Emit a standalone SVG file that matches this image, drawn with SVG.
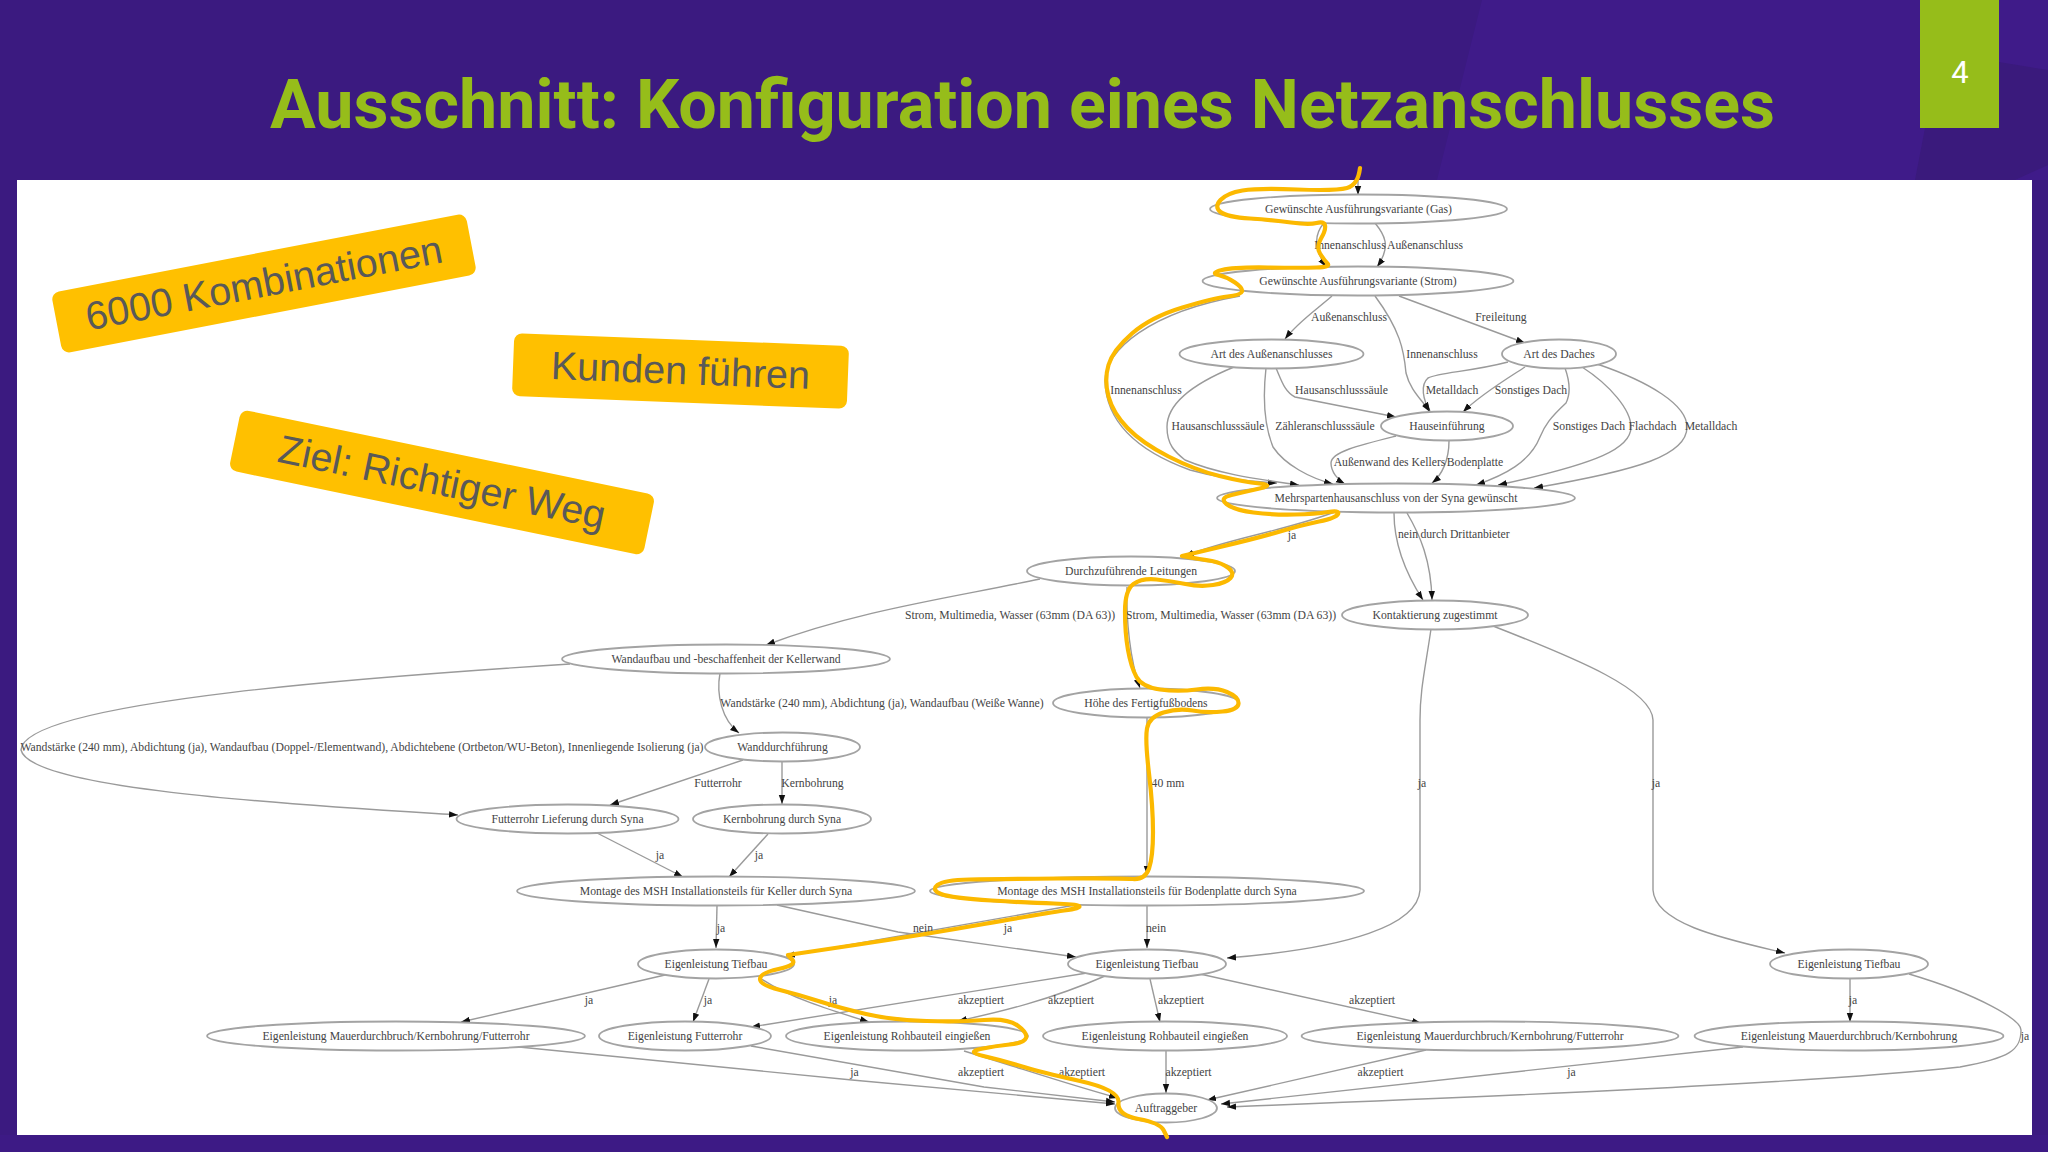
<svg xmlns="http://www.w3.org/2000/svg" width="2048" height="1152" viewBox="0 0 2048 1152">
<style>
.e{fill:none;stroke:#9a9a9a;stroke-width:1.4;marker-end:url(#a)}
.n ellipse{fill:#fff;stroke:#a3a3a3;stroke-width:1.8}
text.t{font-family:"Liberation Serif",serif;font-size:11.7px;fill:#444;text-anchor:middle}
.p rect{fill:#ffc000}
.p text{font-family:"Liberation Sans",Arial,sans-serif;font-size:39.5px;fill:#595959;text-anchor:middle}
</style>
<defs>
<marker id="a" markerUnits="userSpaceOnUse" markerWidth="10" markerHeight="8" refX="9" refY="4" orient="auto"><path d="M0,0.8L9,4L0,7.2Z" fill="#111"/></marker>
</defs>
<rect width="2048" height="1152" fill="#3b1a80"/>
<polygon points="1482,0 2048,0 2048,180 1437,180" fill="#3f1b89"/>
<polygon points="1915,180 1925,128 1999,128 1999,62 2048,70 2048,165 2015,180" fill="#3a1a7c"/>
<rect x="0" y="1135" width="2048" height="17" fill="#3d1a85"/>
<g id="title"><text x="1022.5" y="128" text-anchor="middle" font-family="Roboto,sans-serif" font-weight="700" font-size="68.2" fill="#96bd1a">Ausschnitt: Konfiguration eines Netzanschlusses</text></g>
<g id="page-number"><rect x="1920" y="0" width="79" height="128" fill="#96bd1a"/><text x="1960" y="83" text-anchor="middle" font-family="Roboto,sans-serif" font-size="31" fill="#fff">4</text></g>
<rect x="17" y="180" width="2015" height="955" fill="#fff"/>
<g id="connectors">
<path class="e" d="M1358,180V195"/>
<path class="e" d="M1324,223C1316,232 1312,246 1326,267"/>
<path class="e" d="M1375,223C1384,234 1392,246 1377,267"/>
<path class="e" d="M1332,296C1316,310 1298,322 1285,339"/>
<path class="e" d="M1375,296C1400,330 1404,350 1406,373C1410,390 1422,400 1430,412"/>
<path class="e" d="M1399,296L1525,343"/>
<path class="e" d="M1240,296C1150,312 1105,350 1105,381C1106,420 1135,450 1190,470C1225,480 1255,482 1277,483"/>
<path class="e" d="M1234,367C1190,385 1167,405 1167,427C1167,445 1175,452 1185,460C1220,475 1265,480 1299,485"/>
<path class="e" d="M1266,368C1263,395 1264,425 1273,447C1285,465 1310,478 1333,484"/>
<path class="e" d="M1276,368C1282,382 1285,392 1295,397L1396,417"/>
<path class="e" d="M1508,362C1470,372 1440,372 1428,378C1420,385 1423,400 1430,411"/>
<path class="e" d="M1525,367C1505,380 1480,395 1463,412"/>
<path class="e" d="M1565,368C1570,382 1570,395 1566,403C1550,418 1545,425 1540,437C1530,462 1505,475 1476,485"/>
<path class="e" d="M1582,367C1610,385 1631,410 1631,427C1631,448 1600,463 1498,485"/>
<path class="e" d="M1597,364C1650,382 1687,405 1687,427C1687,455 1640,470 1534,488"/>
<path class="e" d="M1396,436C1360,445 1331,452 1331,463C1331,472 1338,480 1345,484"/>
<path class="e" d="M1449,441C1449,460 1442,475 1432,483"/>
<path class="e" d="M1340,510C1290,530 1230,538 1185,556"/>
<path class="e" d="M1394,513C1394,550 1410,580 1423,600"/>
<path class="e" d="M1407,513C1420,535 1431,560 1432,600"/>
<path class="e" d="M1040,579C950,598 860,610 766,645"/>
<path class="e" d="M1127,587C1126,620 1130,660 1140,688"/>
<path class="e" d="M1431,629C1425,670 1420,690 1420,720V890C1418,925 1350,948 1227,958"/>
<path class="e" d="M1493,626C1580,660 1652,690 1653,720V890C1655,925 1730,940 1785,953"/>
<path class="e" d="M720,673C716,695 722,720 739,733"/>
<path class="e" d="M570,664C400,675 23,700 21,750C30,790 300,805 458,815"/>
<path class="e" d="M743,760L610,805"/>
<path class="e" d="M782,761V804"/>
<path class="e" d="M597,833L683,877"/>
<path class="e" d="M768,834L729,877"/>
<path class="e" d="M1147,717V875"/>
<path class="e" d="M717,906L716,948"/>
<path class="e" d="M777,905L898,932L1076,957"/>
<path class="e" d="M1081,904L786,956"/>
<path class="e" d="M1147,906V948"/>
<path class="e" d="M665,975L461,1022"/>
<path class="e" d="M709,979L693,1022"/>
<path class="e" d="M760,978C790,998 830,1010 869,1022"/>
<path class="e" d="M1087,973L751,1027"/>
<path class="e" d="M1105,976C1050,1000 1000,1012 958,1021"/>
<path class="e" d="M1150,979L1160,1022"/>
<path class="e" d="M1200,974L1421,1023"/>
<path class="e" d="M1850,979V1022"/>
<path class="e" d="M1909,974C1980,995 2021,1020 2021,1030C2021,1050 2010,1058 1960,1067C1800,1085 1400,1100 1227,1107"/>
<path class="e" d="M519,1047L852,1080L1115,1104"/>
<path class="e" d="M751,1046L984,1087L1115,1102"/>
<path class="e" d="M964,1051C1020,1068 1070,1085 1118,1098"/>
<path class="e" d="M1166,1051V1093"/>
<path class="e" d="M1426,1050L1207,1100"/>
<path class="e" d="M1743,1047L1221,1104"/>
<g>
<text class="t" x="1350" y="249">Innenanschluss</text>
<text class="t" x="1425" y="249">Außenanschluss</text>
<text class="t" x="1349" y="321">Außenanschluss</text>
<text class="t" x="1501" y="321">Freileitung</text>
<text class="t" x="1442" y="358">Innenanschluss</text>
<text class="t" x="1146" y="394">Innenanschluss</text>
<text class="t" x="1341.5" y="394">Hausanschlusssäule</text>
<text class="t" x="1452" y="394">Metalldach</text>
<text class="t" x="1531" y="394">Sonstiges Dach</text>
<text class="t" x="1218" y="430">Hausanschlusssäule</text>
<text class="t" x="1325" y="430">Zähleranschlusssäule</text>
<text class="t" x="1589" y="430">Sonstiges Dach</text>
<text class="t" x="1652.5" y="430">Flachdach</text>
<text class="t" x="1711" y="430">Metalldach</text>
<text class="t" x="1389.5" y="466">Außenwand des Kellers</text>
<text class="t" x="1475" y="466">Bodenplatte</text>
<text class="t" x="1292" y="539">ja</text>
<text class="t" x="1408" y="538">nein</text>
<text class="t" x="1465" y="538">durch Drittanbieter</text>
<text class="t" x="1010" y="619">Strom, Multimedia, Wasser (63mm (DA 63))</text>
<text class="t" x="1231" y="619">Strom, Multimedia, Wasser (63mm (DA 63))</text>
<text class="t" x="882" y="707">Wandstärke (240 mm), Abdichtung (ja), Wandaufbau (Weiße Wanne)</text>
<text class="t" x="362" y="751">Wandstärke (240 mm), Abdichtung (ja), Wandaufbau (Doppel-/Elementwand), Abdichtebene (Ortbeton/WU-Beton), Innenliegende Isolierung (ja)</text>
<text class="t" x="718" y="787">Futterrohr</text>
<text class="t" x="812.5" y="787">Kernbohrung</text>
<text class="t" x="1168" y="787">40 mm</text>
<text class="t" x="1422" y="787">ja</text>
<text class="t" x="1656" y="787">ja</text>
<text class="t" x="660" y="859">ja</text>
<text class="t" x="759" y="859">ja</text>
<text class="t" x="721" y="932">ja</text>
<text class="t" x="923" y="932">nein</text>
<text class="t" x="1008" y="932">ja</text>
<text class="t" x="1156" y="932">nein</text>
<text class="t" x="589" y="1004">ja</text>
<text class="t" x="708" y="1004">ja</text>
<text class="t" x="833" y="1004">ja</text>
<text class="t" x="981" y="1004">akzeptiert</text>
<text class="t" x="1071" y="1004">akzeptiert</text>
<text class="t" x="1181" y="1004">akzeptiert</text>
<text class="t" x="1372" y="1004">akzeptiert</text>
<text class="t" x="1853" y="1004">ja</text>
<text class="t" x="2025" y="1040">ja</text>
<text class="t" x="854.5" y="1076">ja</text>
<text class="t" x="981" y="1076">akzeptiert</text>
<text class="t" x="1082" y="1076">akzeptiert</text>
<text class="t" x="1188.5" y="1076">akzeptiert</text>
<text class="t" x="1380.5" y="1076">akzeptiert</text>
<text class="t" x="1571.5" y="1076">ja</text>
</g>
</g>
<g id="n1" class="n"><ellipse cx="1358.5" cy="209" rx="148.5" ry="14.5"/><text class="t" x="1358.5" y="213">Gewünschte Ausführungsvariante (Gas)</text></g>
<g id="n2" class="n"><ellipse cx="1358" cy="281" rx="155.5" ry="14.5"/><text class="t" x="1358" y="285">Gewünschte Ausführungsvariante (Strom)</text></g>
<g id="n3" class="n"><ellipse cx="1271.5" cy="354" rx="92" ry="14.5"/><text class="t" x="1271.5" y="358">Art des Außenanschlusses</text></g>
<g id="n4" class="n"><ellipse cx="1559" cy="354" rx="57" ry="14.5"/><text class="t" x="1559" y="358">Art des Daches</text></g>
<g id="n5" class="n"><ellipse cx="1447" cy="426" rx="66" ry="14.5"/><text class="t" x="1447" y="430">Hauseinführung</text></g>
<g id="n6" class="n"><ellipse cx="1396" cy="498" rx="179" ry="14.5"/><text class="t" x="1396" y="502">Mehrspartenhausanschluss von der Syna gewünscht</text></g>
<g id="n7" class="n"><ellipse cx="1131" cy="571" rx="104" ry="14.5"/><text class="t" x="1131" y="575">Durchzuführende Leitungen</text></g>
<g id="n8" class="n"><ellipse cx="1435" cy="615" rx="93" ry="14.5"/><text class="t" x="1435" y="619">Kontaktierung zugestimmt</text></g>
<g id="n9" class="n"><ellipse cx="726" cy="659" rx="164" ry="14.5"/><text class="t" x="726" y="663">Wandaufbau und -beschaffenheit der Kellerwand</text></g>
<g id="n10" class="n"><ellipse cx="1146" cy="703" rx="93" ry="14.5"/><text class="t" x="1146" y="707">Höhe des Fertigfußbodens</text></g>
<g id="n11" class="n"><ellipse cx="782.5" cy="747" rx="77.5" ry="14.5"/><text class="t" x="782.5" y="751">Wanddurchführung</text></g>
<g id="n12" class="n"><ellipse cx="567.5" cy="819" rx="111" ry="14.5"/><text class="t" x="567.5" y="823">Futterrohr Lieferung durch Syna</text></g>
<g id="n13" class="n"><ellipse cx="782" cy="819" rx="89" ry="14.5"/><text class="t" x="782" y="823">Kernbohrung durch Syna</text></g>
<g id="n14" class="n"><ellipse cx="716" cy="891" rx="199" ry="14.5"/><text class="t" x="716" y="895">Montage des MSH Installationsteils für Keller durch Syna</text></g>
<g id="n15" class="n"><ellipse cx="1147" cy="891" rx="217" ry="14.5"/><text class="t" x="1147" y="895">Montage des MSH Installationsteils für Bodenplatte durch Syna</text></g>
<g id="n16" class="n"><ellipse cx="716" cy="964" rx="78" ry="14.5"/><text class="t" x="716" y="968">Eigenleistung Tiefbau</text></g>
<g id="n17" class="n"><ellipse cx="1147" cy="964" rx="79" ry="14.5"/><text class="t" x="1147" y="968">Eigenleistung Tiefbau</text></g>
<g id="n18" class="n"><ellipse cx="1849" cy="964" rx="79" ry="14.5"/><text class="t" x="1849" y="968">Eigenleistung Tiefbau</text></g>
<g id="n19" class="n"><ellipse cx="396" cy="1036" rx="189" ry="14.5"/><text class="t" x="396" y="1040">Eigenleistung Mauerdurchbruch/Kernbohrung/Futterrohr</text></g>
<g id="n20" class="n"><ellipse cx="685" cy="1036" rx="86" ry="14.5"/><text class="t" x="685" y="1040">Eigenleistung Futterrohr</text></g>
<g id="n21" class="n"><ellipse cx="907" cy="1036" rx="121" ry="14.5"/><text class="t" x="907" y="1040">Eigenleistung Rohbauteil eingießen</text></g>
<g id="n22" class="n"><ellipse cx="1165" cy="1036" rx="122" ry="14.5"/><text class="t" x="1165" y="1040">Eigenleistung Rohbauteil eingießen</text></g>
<g id="n23" class="n"><ellipse cx="1490" cy="1036" rx="188.5" ry="14.5"/><text class="t" x="1490" y="1040">Eigenleistung Mauerdurchbruch/Kernbohrung/Futterrohr</text></g>
<g id="n24" class="n"><ellipse cx="1849" cy="1036" rx="154.5" ry="14.5"/><text class="t" x="1849" y="1040">Eigenleistung Mauerdurchbruch/Kernbohrung</text></g>
<g id="n25" class="n"><ellipse cx="1166" cy="1108" rx="51" ry="14.5"/><text class="t" x="1166" y="1112">Auftraggeber</text></g>
<path id="route" fill="none" stroke="#fcb900" stroke-width="4.2" stroke-linecap="round" stroke-linejoin="round" d="M1360,168Q1358,185 1347,188Q1336,191 1297,189.5Q1258,188 1242.5,190.5Q1227,193 1220.5,200Q1214,207 1220.5,212Q1227,217 1250,218.5Q1273,220 1291,222.5Q1309,225 1316.5,223Q1324,221 1325,225.5Q1326,230 1321,238.5Q1316,247 1320,253.5Q1324,260 1327.5,263.5Q1331,267 1316.5,267.5Q1302,268 1268,267.5Q1234,267 1222,270Q1210,273 1218.5,275Q1227,277 1235,282.5Q1243,288 1242,291.5Q1241,295 1227.5,296.5Q1214,298 1182.5,307.5Q1151,317 1132,333.5Q1113,350 1108.5,365Q1104,380 1108.5,396.5Q1113,413 1127.5,428Q1142,443 1168.5,456.5Q1195,470 1219.5,476Q1244,482 1259.5,483.5Q1275,485 1259.5,488.5Q1244,492 1231.5,495Q1219,498 1226.5,504Q1234,510 1253.5,512.5Q1273,515 1294.5,514.5Q1316,514 1328,512Q1340,510 1338,514Q1336,518 1319,521.5Q1302,525 1280,531.5Q1258,538 1220,547L1182,556Q1202,559.5 1212,561Q1222,563 1228.5,568Q1235,573 1230.5,578Q1226,583 1213,585Q1200,587 1185.5,584Q1171,581 1156.5,579.5Q1142,578 1133.5,584Q1125,590 1125,611.5Q1125,633 1128,650Q1131,667 1136.5,677Q1142,687 1160,689.5Q1178,692 1196.5,689.5Q1215,687 1227,692Q1239,697 1238.5,703.5Q1238,710 1222.5,711.5Q1207,713 1192.5,710.5Q1178,708 1163.5,712.5Q1149,717 1147,728.5Q1145,740 1149,773.5Q1153,807 1153,832Q1153,857 1149,868.5Q1145,880 1132.5,879Q1120,878 1057.5,878.5Q995,879 969.5,879.5Q944,880 937.5,885Q931,890 941,894Q951,898 991.5,900.5Q1032,903 1054,903.5Q1076,904 1079,906Q1082,908 1064,910.5Q1046,913 984,924Q922,935 855,945L788,955Q788,955 792.5,960Q797,965 778.5,969Q760,973 760,979Q760,985 780,990Q800,995 820,1001.5Q840,1008 866,1014Q892,1020 926.5,1021Q961,1022 984,1020Q1007,1018 1017.5,1025.5Q1028,1033 1026,1038Q1024,1043 1009.5,1044.5Q995,1046 980.5,1049Q966,1052 983.5,1056Q1001,1060 1020.5,1066Q1040,1072 1080,1081Q1120,1090 1118.5,1102.5Q1117,1115 1138.5,1119Q1160,1123 1163.5,1130L1167,1137"/>
<g id="note1" class="p" transform="translate(264,283.5) rotate(-10.9)"><rect x="-211" y="-31" width="422" height="62" rx="8"/><text x="0" y="13">6000 Kombinationen</text></g>
<g id="note2" class="p" transform="translate(680.5,371) rotate(2.2)"><rect x="-167.5" y="-31.5" width="335" height="63" rx="8"/><text x="0" y="13">Kunden führen</text></g>
<g id="note3" class="p" transform="translate(442,482.5) rotate(11.7)"><rect x="-211.5" y="-31" width="423" height="62" rx="8"/><text x="0" y="13">Ziel: Richtiger Weg</text></g>
</svg>
